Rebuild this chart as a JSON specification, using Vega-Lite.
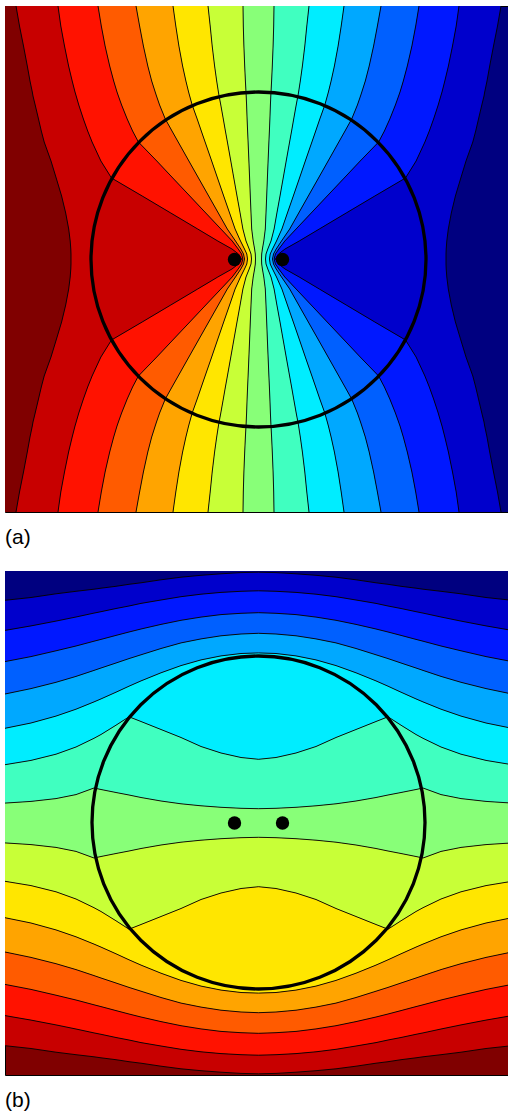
{
"$schema": "https://vega.github.io/schema/vega-lite/v6.json",
"background": "white",
"padding": {"left": 4, "top": 5, "right": 0, "bottom": 0},
"bounds": "flush",
"spacing": 59,
"resolve": {"scale": {"color": "independent"}},
"config": {
  "view": {"stroke": "black", "strokeWidth": 1},
  "title": {"font": "Liberation Sans", "fontSize": 21, "fontWeight": "normal", "color": "black", "anchor": "start", "orient": "bottom", "baseline": "alphabetic", "offset": 15, "frame": "group"}
},
"datasets": {
"a": [
{"y":5,"L1":15,"L2":57,"L3":97,"L4":135,"L5":172,"L6":207,"L7":242,"L8":273,"L9":308,"L10":343,"L11":380,"L12":418,"L13":458,"L14":500},
{"y":25,"L1":18.5,"L2":59.8,"L3":100.3,"L4":138.6,"L5":174.8,"L6":209.2,"L7":242.3,"L8":272.7,"L9":305.8,"L10":340.2,"L11":376.4,"L12":414.7,"L13":455.2,"L14":496.5},
{"y":45,"L1":22.5,"L2":63.5,"L3":104.1,"L4":142.4,"L5":177.9,"L6":211.2,"L7":242.9,"L8":272.1,"L9":303.8,"L10":337.1,"L11":372.6,"L12":410.9,"L13":451.5,"L14":492.5},
{"y":65,"L1":26.3,"L2":67.6,"L3":108.7,"L4":146.8,"L5":181.6,"L6":213.6,"L7":243.7,"L8":271.3,"L9":301.4,"L10":333.4,"L11":368.2,"L12":406.3,"L13":447.4,"L14":488.7},
{"y":80,"L1":29,"L2":71.2,"L3":112.7,"L4":150.7,"L5":184.9,"L6":215.7,"L7":244.4,"L8":270.6,"L9":299.3,"L10":330.1,"L11":364.3,"L12":402.3,"L13":443.8,"L14":486},
{"y":91,"L1":31.3,"L2":74,"L3":116,"L4":154.2,"L5":187.6,"L6":217.4,"L7":245,"L8":270,"L9":297.6,"L10":327.4,"L11":360.8,"L12":399,"L13":441,"L14":483.7},
{"y":95,"L1":32,"L2":75.2,"L3":117.4,"L4":155.5,"L5":188.7,"L6":218.1,"L7":245.2,"L8":269.8,"L9":296.9,"L10":326.3,"L11":359.5,"L12":397.6,"L13":439.8,"L14":483},
{"y":104,"L1":34.2,"L2":77.8,"L3":120.6,"L4":158.6,"L5":191.2,"L6":219.8,"L7":245.6,"L8":269.4,"L9":295.2,"L10":323.8,"L11":356.4,"L12":394.4,"L13":437.2,"L14":480.8},
{"y":118,"L1":37.5,"L2":82.4,"L3":126.2,"L4":164.3,"L5":196.2,"L6":222.3,"L7":246.1,"L8":268.9,"L9":292.7,"L10":318.8,"L11":350.7,"L12":388.8,"L13":432.6,"L14":477.5},
{"y":130,"L1":40.3,"L2":86.7,"L3":131.6,"L4":171,"L5":200.3,"L6":224.4,"L7":246.6,"L8":268.4,"L9":290.6,"L10":314.7,"L11":344,"L12":383.4,"L13":428.3,"L14":474.7},
{"y":141,"L1":43.2,"L2":91.1,"L3":137.4,"L4":177.2,"L5":204.1,"L6":226.4,"L7":247.1,"L8":267.9,"L9":288.6,"L10":310.9,"L11":337.8,"L12":377.6,"L13":423.9,"L14":471.8},
{"y":160,"L1":50,"L2":99.9,"L3":155.8,"L4":187.9,"L5":210.7,"L6":229.8,"L7":247.9,"L8":267.1,"L9":285.2,"L10":304.3,"L11":327.1,"L12":359.2,"L13":415.1,"L14":465},
{"y":177,"L1":55.2,"L2":110.5,"L3":171.8,"L4":197.5,"L5":216.5,"L6":232.8,"L7":248.6,"L8":266.4,"L9":282.2,"L10":298.5,"L11":317.5,"L12":343.2,"L13":404.5,"L14":459.8},
{"y":195,"L1":60.6,"L2":141.2,"L3":188.8,"L4":207.7,"L5":222.7,"L6":236,"L7":249.3,"L8":265.7,"L9":279,"L10":292.3,"L11":307.3,"L12":326.2,"L13":373.8,"L14":454.4},
{"y":212,"L1":64.7,"L2":169.8,"L3":204.8,"L4":217.3,"L5":228.6,"L6":239.1,"L7":250,"L8":265,"L9":275.9,"L10":286.4,"L11":297.7,"L12":310.2,"L13":345.2,"L14":450.3},
{"y":228,"L1":67.7,"L2":196.7,"L3":219.9,"L4":226.3,"L5":234.1,"L6":241.9,"L7":250.7,"L8":264.3,"L9":273.1,"L10":280.9,"L11":288.7,"L12":295.1,"L13":318.3,"L14":447.3},
{"y":240,"L1":69.2,"L2":216.8,"L3":231.2,"L4":234.5,"L5":239.5,"L6":245,"L7":252.2,"L8":262.8,"L9":270,"L10":275.5,"L11":280.5,"L12":283.8,"L13":298.2,"L14":445.8},
{"y":248,"L1":69.8,"L2":231,"L3":237.2,"L4":239.8,"L5":243.5,"L6":248.2,"L7":253.6,"L8":261.4,"L9":266.8,"L10":271.5,"L11":275.2,"L12":277.8,"L13":284,"L14":445.2},
{"y":253,"L1":70,"L2":237.5,"L3":240.6,"L4":242.5,"L5":245.8,"L6":250,"L7":254.3,"L8":260.7,"L9":265,"L10":269.2,"L11":272.5,"L12":274.4,"L13":277.5,"L14":445},
{"y":258,"L1":70,"L2":240.5,"L3":241.8,"L4":243.5,"L5":246.5,"L6":250.5,"L7":254.5,"L8":260.5,"L9":264.5,"L10":268.5,"L11":271.5,"L12":273.2,"L13":274.5,"L14":445},
{"y":263,"L1":70,"L2":237.5,"L3":240.6,"L4":242.5,"L5":245.8,"L6":250,"L7":254.3,"L8":260.7,"L9":265,"L10":269.2,"L11":272.5,"L12":274.4,"L13":277.5,"L14":445},
{"y":268,"L1":69.8,"L2":231,"L3":237.2,"L4":239.8,"L5":243.5,"L6":248.2,"L7":253.6,"L8":261.4,"L9":266.8,"L10":271.5,"L11":275.2,"L12":277.8,"L13":284,"L14":445.2},
{"y":276,"L1":69.2,"L2":216.8,"L3":231.2,"L4":234.5,"L5":239.5,"L6":245,"L7":252.2,"L8":262.8,"L9":270,"L10":275.5,"L11":280.5,"L12":283.8,"L13":298.2,"L14":445.8},
{"y":288,"L1":67.7,"L2":196.7,"L3":219.9,"L4":226.3,"L5":234.1,"L6":241.9,"L7":250.7,"L8":264.3,"L9":273.1,"L10":280.9,"L11":288.7,"L12":295.1,"L13":318.3,"L14":447.3},
{"y":304,"L1":64.7,"L2":169.8,"L3":204.8,"L4":217.3,"L5":228.6,"L6":239.1,"L7":250,"L8":265,"L9":275.9,"L10":286.4,"L11":297.7,"L12":310.2,"L13":345.2,"L14":450.3},
{"y":321,"L1":60.6,"L2":141.2,"L3":188.8,"L4":207.7,"L5":222.7,"L6":236,"L7":249.3,"L8":265.7,"L9":279,"L10":292.3,"L11":307.3,"L12":326.2,"L13":373.8,"L14":454.4},
{"y":339,"L1":55.2,"L2":110.5,"L3":171.8,"L4":197.5,"L5":216.5,"L6":232.8,"L7":248.6,"L8":266.4,"L9":282.2,"L10":298.5,"L11":317.5,"L12":343.2,"L13":404.5,"L14":459.8},
{"y":356,"L1":50,"L2":99.9,"L3":155.8,"L4":187.9,"L5":210.7,"L6":229.8,"L7":247.9,"L8":267.1,"L9":285.2,"L10":304.3,"L11":327.1,"L12":359.2,"L13":415.1,"L14":465},
{"y":375,"L1":43.2,"L2":91.1,"L3":137.4,"L4":177.2,"L5":204.1,"L6":226.4,"L7":247.1,"L8":267.9,"L9":288.6,"L10":310.9,"L11":337.8,"L12":377.6,"L13":423.9,"L14":471.8},
{"y":386,"L1":40.3,"L2":86.7,"L3":131.6,"L4":171,"L5":200.3,"L6":224.4,"L7":246.6,"L8":268.4,"L9":290.6,"L10":314.7,"L11":344,"L12":383.4,"L13":428.3,"L14":474.7},
{"y":398,"L1":37.5,"L2":82.4,"L3":126.2,"L4":164.3,"L5":196.2,"L6":222.3,"L7":246.1,"L8":268.9,"L9":292.7,"L10":318.8,"L11":350.7,"L12":388.8,"L13":432.6,"L14":477.5},
{"y":412,"L1":34.2,"L2":77.8,"L3":120.6,"L4":158.6,"L5":191.2,"L6":219.8,"L7":245.6,"L8":269.4,"L9":295.2,"L10":323.8,"L11":356.4,"L12":394.4,"L13":437.2,"L14":480.8},
{"y":421,"L1":32,"L2":75.2,"L3":117.4,"L4":155.5,"L5":188.7,"L6":218.1,"L7":245.2,"L8":269.8,"L9":296.9,"L10":326.3,"L11":359.5,"L12":397.6,"L13":439.8,"L14":483},
{"y":425,"L1":31.3,"L2":74,"L3":116,"L4":154.2,"L5":187.6,"L6":217.4,"L7":245,"L8":270,"L9":297.6,"L10":327.4,"L11":360.8,"L12":399,"L13":441,"L14":483.7},
{"y":436,"L1":29,"L2":71.2,"L3":112.7,"L4":150.7,"L5":184.9,"L6":215.7,"L7":244.4,"L8":270.6,"L9":299.3,"L10":330.1,"L11":364.3,"L12":402.3,"L13":443.8,"L14":486},
{"y":451,"L1":26.3,"L2":67.6,"L3":108.7,"L4":146.8,"L5":181.6,"L6":213.6,"L7":243.7,"L8":271.3,"L9":301.4,"L10":333.4,"L11":368.2,"L12":406.3,"L13":447.4,"L14":488.7},
{"y":471,"L1":22.5,"L2":63.5,"L3":104.1,"L4":142.4,"L5":177.9,"L6":211.2,"L7":242.9,"L8":272.1,"L9":303.8,"L10":337.1,"L11":372.6,"L12":410.9,"L13":451.5,"L14":492.5},
{"y":491,"L1":18.5,"L2":59.8,"L3":100.3,"L4":138.6,"L5":174.8,"L6":209.2,"L7":242.3,"L8":272.7,"L9":305.8,"L10":340.2,"L11":376.4,"L12":414.7,"L13":455.2,"L14":496.5},
{"y":511,"L1":15,"L2":57,"L3":97,"L4":135,"L5":172,"L6":207,"L7":242,"L8":273,"L9":308,"L10":343,"L11":380,"L12":418,"L13":458,"L14":500}
],
"b": [
{"x":4,"M1":599.3,"M2":629.4,"M3":660.6,"M4":693,"M5":727.3,"M6":763.7,"M7":802.1,"M8":841.9,"M9":880.3,"M10":916.7,"M11":951,"M12":983.4,"M13":1014.6,"M14":1044.7},
{"x":30,"M1":596.5,"M2":624.9,"M3":655.6,"M4":687.6,"M5":722,"M6":759.4,"M7":800.4,"M8":843.6,"M9":884.6,"M10":922,"M11":956.4,"M12":988.4,"M13":1019.1,"M14":1047.5},
{"x":55,"M1":592.8,"M2":620.1,"M3":649.8,"M4":681.3,"M5":715.1,"M6":753.2,"M7":797.6,"M8":846.4,"M9":890.8,"M10":928.9,"M11":962.7,"M12":994.2,"M13":1023.9,"M14":1051.2},
{"x":75,"M1":590.3,"M2":616,"M3":645,"M4":675.4,"M5":708.2,"M6":746,"M7":793.6,"M8":850.4,"M9":898,"M10":935.8,"M11":968.6,"M12":999,"M13":1028,"M14":1053.7},
{"x":93,"M1":588.2,"M2":612.1,"M3":640.2,"M4":669.4,"M5":700.9,"M6":737.3,"M7":787,"M8":857,"M9":906.7,"M10":943.1,"M11":974.6,"M12":1003.8,"M13":1031.9,"M14":1055.8},
{"x":100,"M1":587.2,"M2":610.7,"M3":638.4,"M4":667,"M5":697.9,"M6":733.5,"M7":788.5,"M8":855.5,"M9":910.5,"M10":946.1,"M11":977,"M12":1005.6,"M13":1033.3,"M14":1056.8},
{"x":115,"M1":585.3,"M2":607.5,"M3":634.4,"M4":662,"M5":691.2,"M6":724.2,"M7":791.5,"M8":852.5,"M9":919.8,"M10":952.8,"M11":982,"M12":1009.6,"M13":1036.5,"M14":1058.7},
{"x":128,"M1":583.3,"M2":605,"M3":631,"M4":657.6,"M5":685.2,"M6":715.8,"M7":794,"M8":850,"M9":928.2,"M10":958.8,"M11":986.4,"M12":1013,"M13":1039,"M14":1060.7},
{"x":140,"M1":581.8,"M2":602.4,"M3":628,"M4":653.8,"M5":679.9,"M6":720.5,"M7":796.5,"M8":847.5,"M9":923.5,"M10":964.1,"M11":990.2,"M12":1016,"M13":1041.6,"M14":1062.2},
{"x":160,"M1":578.8,"M2":599,"M3":623.4,"M4":647.5,"M5":671.8,"M6":728.5,"M7":800,"M8":844,"M9":915.5,"M10":972.2,"M11":996.5,"M12":1020.6,"M13":1045,"M14":1065.2},
{"x":180,"M1":576.2,"M2":595.7,"M3":619.3,"M4":641.9,"M5":664.6,"M6":736.5,"M7":802.8,"M8":841.2,"M9":907.5,"M10":979.4,"M11":1002.1,"M12":1024.7,"M13":1048.3,"M14":1067.8},
{"x":200,"M1":574.3,"M2":593.2,"M3":616.1,"M4":637.9,"M5":658.9,"M6":745.5,"M7":804.8,"M8":839.2,"M9":898.5,"M10":985.1,"M11":1006.1,"M12":1027.9,"M13":1050.8,"M14":1069.7},
{"x":220,"M1":572.8,"M2":591.4,"M3":613.6,"M4":634.8,"M5":654.9,"M6":752,"M7":806.3,"M8":837.7,"M9":892,"M10":989.1,"M11":1009.2,"M12":1030.4,"M13":1052.6,"M14":1071.2},
{"x":240,"M1":571.6,"M2":590.3,"M3":612.3,"M4":633,"M5":652.5,"M6":756.5,"M7":807.3,"M8":836.7,"M9":887.5,"M10":991.5,"M11":1011,"M12":1031.7,"M13":1053.7,"M14":1072.4},
{"x":257.5,"M1":571.2,"M2":589.8,"M3":611.7,"M4":632.3,"M5":651.9,"M6":758.3,"M7":807.7,"M8":836.3,"M9":885.7,"M10":992.1,"M11":1011.7,"M12":1032.3,"M13":1054.2,"M14":1072.8},
{"x":275,"M1":571.6,"M2":590.3,"M3":612.3,"M4":633,"M5":652.5,"M6":756.5,"M7":807.3,"M8":836.7,"M9":887.5,"M10":991.5,"M11":1011,"M12":1031.7,"M13":1053.7,"M14":1072.4},
{"x":295,"M1":572.8,"M2":591.4,"M3":613.6,"M4":634.8,"M5":654.9,"M6":752,"M7":806.3,"M8":837.7,"M9":892,"M10":989.1,"M11":1009.2,"M12":1030.4,"M13":1052.6,"M14":1071.2},
{"x":315,"M1":574.3,"M2":593.2,"M3":616.1,"M4":637.9,"M5":658.9,"M6":745.5,"M7":804.8,"M8":839.2,"M9":898.5,"M10":985.1,"M11":1006.1,"M12":1027.9,"M13":1050.8,"M14":1069.7},
{"x":335,"M1":576.2,"M2":595.7,"M3":619.3,"M4":641.9,"M5":664.6,"M6":736.5,"M7":802.8,"M8":841.2,"M9":907.5,"M10":979.4,"M11":1002.1,"M12":1024.7,"M13":1048.3,"M14":1067.8},
{"x":355,"M1":578.8,"M2":599,"M3":623.4,"M4":647.5,"M5":671.8,"M6":728.5,"M7":800,"M8":844,"M9":915.5,"M10":972.2,"M11":996.5,"M12":1020.6,"M13":1045,"M14":1065.2},
{"x":375,"M1":581.8,"M2":602.4,"M3":628,"M4":653.8,"M5":679.9,"M6":720.5,"M7":796.5,"M8":847.5,"M9":923.5,"M10":964.1,"M11":990.2,"M12":1016,"M13":1041.6,"M14":1062.2},
{"x":387,"M1":583.3,"M2":605,"M3":631,"M4":657.6,"M5":685.2,"M6":715.8,"M7":794,"M8":850,"M9":928.2,"M10":958.8,"M11":986.4,"M12":1013,"M13":1039,"M14":1060.7},
{"x":400,"M1":585.3,"M2":607.5,"M3":634.4,"M4":662,"M5":691.2,"M6":724.2,"M7":791.5,"M8":852.5,"M9":919.8,"M10":952.8,"M11":982,"M12":1009.6,"M13":1036.5,"M14":1058.7},
{"x":415,"M1":587.2,"M2":610.7,"M3":638.4,"M4":667,"M5":697.9,"M6":733.5,"M7":788.5,"M8":855.5,"M9":910.5,"M10":946.1,"M11":977,"M12":1005.6,"M13":1033.3,"M14":1056.8},
{"x":422,"M1":588.2,"M2":612.1,"M3":640.2,"M4":669.4,"M5":700.9,"M6":737.3,"M7":787,"M8":857,"M9":906.7,"M10":943.1,"M11":974.6,"M12":1003.8,"M13":1031.9,"M14":1055.8},
{"x":440,"M1":590.3,"M2":616,"M3":645,"M4":675.4,"M5":708.2,"M6":746,"M7":793.6,"M8":850.4,"M9":898,"M10":935.8,"M11":968.6,"M12":999,"M13":1028,"M14":1053.7},
{"x":460,"M1":592.8,"M2":620.1,"M3":649.8,"M4":681.3,"M5":715.1,"M6":753.2,"M7":797.6,"M8":846.4,"M9":890.8,"M10":928.9,"M11":962.7,"M12":994.2,"M13":1023.9,"M14":1051.2},
{"x":485,"M1":596.5,"M2":624.9,"M3":655.6,"M4":687.6,"M5":722,"M6":759.4,"M7":800.4,"M8":843.6,"M9":884.6,"M10":922,"M11":956.4,"M12":988.4,"M13":1019.1,"M14":1047.5},
{"x":511,"M1":599.3,"M2":629.4,"M3":660.6,"M4":693,"M5":727.3,"M6":763.7,"M7":802.1,"M8":841.9,"M9":880.3,"M10":916.7,"M11":951,"M12":983.4,"M13":1014.6,"M14":1044.7}
]
},
"vconcat": [
{
  "width": 507, "height": 506,
  "title": {"text": "(a)"},
  "view": {"fill": "#000080"},
  "data": {"name": "a"},
  "encoding": {"y": {"field": "y", "type": "quantitative", "scale": {"domain": [5, 511], "reverse": true, "nice": false, "zero": false}, "axis": null}},
  "layer": [
    {"mark": {"type": "area", "orient": "horizontal", "color": "#800000", "clip": true},
     "encoding": {"x": {"field": "L1", "type": "quantitative", "scale": {"domain": [4, 511], "nice": false, "zero": false}, "axis": null, "stack": null}}},
    {"transform": [
       {"fold": ["L1","L2","L3","L4","L5","L6","L7","L8","L9","L10","L11","L12","L13","L14"], "as": ["line", "x"]},
       {"window": [{"op": "lead", "field": "x", "as": "xn"}, {"op": "row_number", "as": "band"}], "groupby": ["y"], "sort": [{"field": "x", "order": "ascending"}]},
       {"filter": "isValid(datum.xn)"}
     ],
     "mark": {"type": "area", "orient": "horizontal", "clip": true},
     "encoding": {
       "x": {"field": "x", "type": "quantitative", "scale": {"domain": [4, 511], "nice": false, "zero": false}, "axis": null, "stack": null},
       "x2": {"field": "xn"},
       "color": {"field": "band", "type": "ordinal", "legend": null, "scale": {"domain": [1,2,3,4,5,6,7,8,9,10,11,12,13], "range": ["#C80000","#FF1200","#FF5B00","#FFA400","#FFE600","#C8FF37","#88FF78","#40FFC0","#00EDFF","#00A8FF","#0060FF","#0018FF","#0000CC"]}}
     }},
    {"transform": [{"fold": ["L1","L2","L3","L4","L5","L6","L7","L8","L9","L10","L11","L12","L13","L14"], "as": ["line", "x"]}],
     "mark": {"type": "line", "color": "black", "strokeWidth": 0.9, "clip": true},
     "encoding": {
       "x": {"field": "x", "type": "quantitative", "scale": {"domain": [4, 511], "nice": false, "zero": false}, "axis": null},
       "detail": {"field": "line", "type": "nominal"},
       "order": {"field": "y", "type": "quantitative"}
     }},
    {"data": {"values": [{"x": 257.5, "y": 258.5}]},
     "mark": {"type": "point", "shape": "circle", "size": 112225, "filled": false, "color": "black", "strokeWidth": 3.3, "opacity": 1},
     "encoding": {"x": {"field": "x", "type": "quantitative", "scale": {"domain": [4, 511], "nice": false, "zero": false}, "axis": null}}},
    {"data": {"values": [{"x": 233.5, "y": 258.5}, {"x": 281.5, "y": 258.5}]},
     "mark": {"type": "point", "shape": "circle", "size": 180, "filled": true, "color": "black", "opacity": 1},
     "encoding": {"x": {"field": "x", "type": "quantitative", "scale": {"domain": [4, 511], "nice": false, "zero": false}, "axis": null}}}
  ]
},
{
  "width": 507, "height": 504,
  "title": {"text": "(b)"},
  "view": {"fill": "#800000"},
  "data": {"name": "b"},
  "encoding": {"x": {"field": "x", "type": "quantitative", "scale": {"domain": [4, 511], "nice": false, "zero": false}, "axis": null}},
  "layer": [
    {"mark": {"type": "area", "orient": "vertical", "color": "#000080", "clip": true},
     "encoding": {"y": {"field": "M1", "type": "quantitative", "scale": {"domain": [570, 1074], "reverse": true, "nice": false, "zero": false}, "axis": null, "stack": null}}},
    {"transform": [
       {"fold": ["M1","M2","M3","M4","M5","M6","M7","M8","M9","M10","M11","M12","M13","M14"], "as": ["line", "y"]},
       {"window": [{"op": "lead", "field": "y", "as": "yn"}, {"op": "row_number", "as": "band"}], "groupby": ["x"], "sort": [{"field": "y", "order": "ascending"}]},
       {"filter": "isValid(datum.yn)"}
     ],
     "mark": {"type": "area", "orient": "vertical", "clip": true},
     "encoding": {
       "y": {"field": "y", "type": "quantitative", "scale": {"domain": [570, 1074], "reverse": true, "nice": false, "zero": false}, "axis": null, "stack": null},
       "y2": {"field": "yn"},
       "color": {"field": "band", "type": "ordinal", "legend": null, "scale": {"domain": [1,2,3,4,5,6,7,8,9,10,11,12,13], "range": ["#0000CC","#0018FF","#0060FF","#00A8FF","#00EDFF","#40FFC0","#88FF78","#C8FF37","#FFE600","#FFA400","#FF5B00","#FF1200","#C80000"]}}
     }},
    {"transform": [{"fold": ["M1","M2","M3","M4","M5","M6","M7","M8","M9","M10","M11","M12","M13","M14"], "as": ["line", "y"]}],
     "mark": {"type": "line", "color": "black", "strokeWidth": 0.9, "clip": true},
     "encoding": {
       "y": {"field": "y", "type": "quantitative", "scale": {"domain": [570, 1074], "reverse": true, "nice": false, "zero": false}, "axis": null},
       "detail": {"field": "line", "type": "nominal"}
     }},
    {"data": {"values": [{"x": 257.5, "y": 821.5}]},
     "mark": {"type": "point", "shape": "circle", "size": 110889, "filled": false, "color": "black", "strokeWidth": 3.3, "opacity": 1},
     "encoding": {"y": {"field": "y", "type": "quantitative", "scale": {"domain": [570, 1074], "reverse": true, "nice": false, "zero": false}, "axis": null}}},
    {"data": {"values": [{"x": 233.5, "y": 822}, {"x": 281.5, "y": 822}]},
     "mark": {"type": "point", "shape": "circle", "size": 180, "filled": true, "color": "black", "opacity": 1},
     "encoding": {"y": {"field": "y", "type": "quantitative", "scale": {"domain": [570, 1074], "reverse": true, "nice": false, "zero": false}, "axis": null}}}
  ]
}
]
}
